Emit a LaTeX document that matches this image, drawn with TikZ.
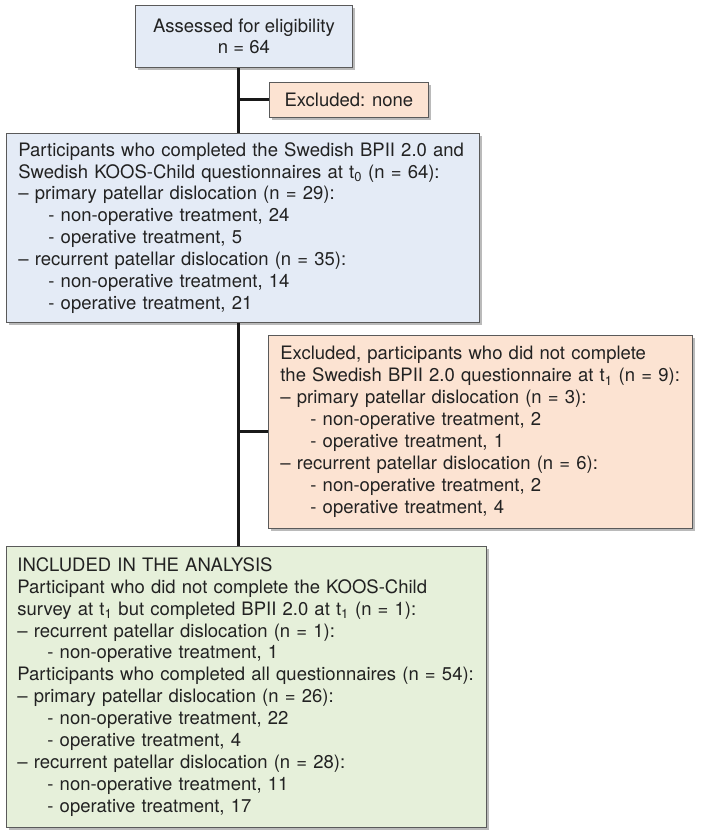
\documentclass[tikz,border=0pt]{standalone}
\usepackage{fontspec}
\setmainfont{TeX Gyre Heros}
\usetikzlibrary{shadows}
\definecolor{bluef}{HTML}{E4EBF6}
\definecolor{peachf}{HTML}{FCE3D2}
\definecolor{greenf}{HTML}{E6F0DA}
\definecolor{edge}{HTML}{5A5A5A}
\definecolor{txt}{HTML}{222222}
\newcommand{\ind}{\hspace*{30pt}}
\begin{document}
\begin{tikzpicture}[x=1pt,y=-1pt,
  box/.style={draw=edge, line width=0.8pt, anchor=north west, inner sep=0pt,
    text=txt, font=\fontsize{18.5}{21.9}\selectfont,
    drop shadow={shadow xshift=3pt, shadow yshift=-3pt, fill=black!45, opacity=0.6}},
  spine/.style={line width=3pt, draw=black!90}]
\useasboundingbox (0,0) rectangle (706,838);
\node[box, fill=bluef, minimum width=217pt, minimum height=62pt, align=center] (b1) at (135,5)
  {Assessed for eligibility\\n = 64};
\node[box, fill=peachf, minimum width=159pt, minimum height=35pt, align=center] (e1) at (269,82)
  {Excluded: none};
\node[box, fill=bluef, minimum width=473pt, minimum height=189pt, text width=449pt, align=left] (b2) at (6,133)
  {Participants who completed the Swedish BPII 2.0 and\\
   Swedish KOOS-Child questionnaires at t\textsubscript{0} (n = 64):\\
   – primary patellar dislocation (n = 29):\\
   \ind- non-operative treatment, 24\\
   \ind- operative treatment, 5\\
   – recurrent patellar dislocation (n = 35):\\
   \ind- non-operative treatment, 14\\
   \ind- operative treatment, 21};
\node[box, fill=peachf, minimum width=424pt, minimum height=193pt, text width=400pt, align=left] (e2) at (268,335)
  {Excluded, participants who did not complete\\
   the Swedish BPII 2.0 questionnaire at t\textsubscript{1} (n = 9):\\
   – primary patellar dislocation (n = 3):\\
   \ind- non-operative treatment, 2\\
   \ind- operative treatment, 1\\
   – recurrent patellar dislocation (n = 6):\\
   \ind- non-operative treatment, 2\\
   \ind- operative treatment, 4};
\node[box, fill=greenf, minimum width=480pt, minimum height=281pt, text width=458pt, align=left] (b4) at (6,546)
  {INCLUDED IN THE ANALYSIS\\
   Participant who did not complete the KOOS-Child\\
   survey at t\textsubscript{1} but completed BPII 2.0 at t\textsubscript{1} (n = 1):\\
   – recurrent patellar dislocation (n = 1):\\
   \ind- non-operative treatment, 1\\
   \mbox{Participants who completed all questionnaires (n = 54):}\\
   – primary patellar dislocation (n = 26):\\
   \ind- non-operative treatment, 22\\
   \ind- operative treatment, 4\\
   – recurrent patellar dislocation (n = 28):\\
   \ind- non-operative treatment, 11\\
   \ind- operative treatment, 17};
\coordinate (sx) at (238,0);
\draw[spine] (b1.south -| sx) -- (b2.north -| sx);
\draw[spine] (b2.south -| sx) -- (b4.north -| sx);
\draw[spine] (e1.west) -- (e1.west -| sx);
\draw[spine] (e2.west) -- (e2.west -| sx);
\end{tikzpicture}
\end{document}
